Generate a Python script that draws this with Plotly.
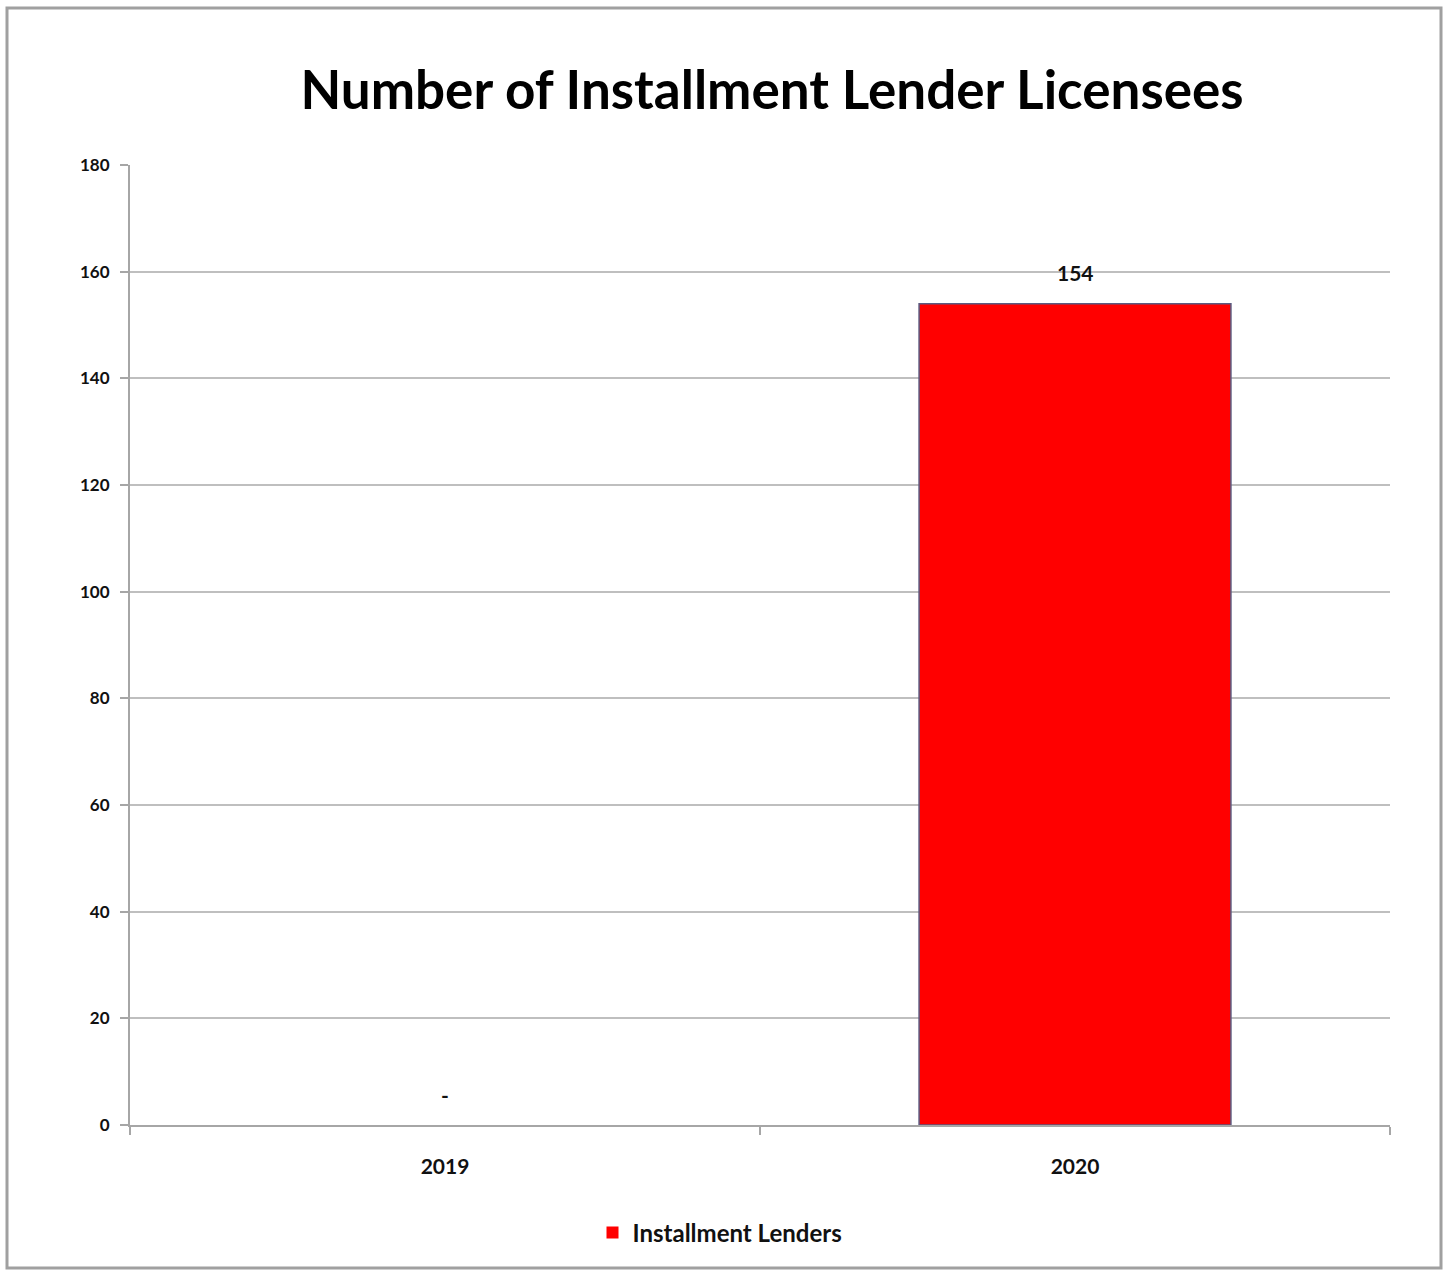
import plotly.graph_objects as go

categories = ["2019", "2020"]
values = [0, 154]
labels = ["-", "154"]
y_ticks = [0, 20, 40, 60, 80, 100, 120, 140, 160, 180]
series_name = "Installment Lenders"
title_text = "Number of Installment Lender Licensees"

W, H = 1447, 1270
L, R, T, B = 130, 57, 165, 145
pw, ph = W - L - R, H - T - B

def px_x(x):
    return (x - L) / pw

def px_y(y):
    return (H - B - y) / ph

FONT = "Lato"

fig = go.Figure()
fig.add_trace(go.Bar(
    x=categories, y=values, name=series_name,
    marker=dict(color="#ff0000",
                line=dict(color="#5a5a80", width=[0 if v == 0 else 1.5 for v in values])),
    width=0.495, showlegend=True,
))

# category axis positions are indices 0..n-1
for i, (v, t) in enumerate(zip(values, labels)):
    fig.add_annotation(x=i, y=v, xref="x", yref="y", text=t, showarrow=False,
                       yshift=31, font=dict(family=FONT, size=21, color="#111111", weight="bold"))

fig.add_shape(type="rect", xref="paper", yref="paper",
              x0=px_x(7), x1=px_x(1441), y0=px_y(1268), y1=px_y(8),
              line=dict(color="#a0a0a0", width=3), fillcolor="rgba(0,0,0,0)", layer="below")

fig.update_layout(
    width=W, height=H,
    margin=dict(l=L, r=R, t=T, b=B),
    paper_bgcolor="white", plot_bgcolor="white",
    title=dict(text=title_text, x=px_x(772), xref="paper", xanchor="center",
               y=1 - 90 / H, yanchor="middle",
               font=dict(family=FONT, size=53, color="#000000", weight="bold")),
    font=dict(family=FONT, color="#111111"),
    legend=dict(orientation="h", x=px_x(720), xanchor="center", y=px_y(1233), yanchor="middle",
                font=dict(family=FONT, size=24, color="#111111", weight="bold"), itemwidth=30),
    xaxis=dict(type="category", range=[-0.5, 1.5], showline=True, linecolor="#a6a6a6", linewidth=2,
               ticks="outside", tickson="boundaries", ticklen=8, tickcolor="#a6a6a6", tickwidth=2,
               tickfont=dict(family=FONT, size=21, color="#111111", weight="bold"),
               ticklabelstandoff=22, showgrid=False, tickangle=0),
    yaxis=dict(range=[0, 180], tickvals=y_ticks, showline=True, linecolor="#a6a6a6", linewidth=2,
               ticks="outside", ticklen=8, tickcolor="#a6a6a6", tickwidth=2,
               gridcolor="#bfbfbf", gridwidth=2, zeroline=False,
               tickfont=dict(family=FONT, size=17, color="#111111", weight="bold"), ticklabelstandoff=7),
)

fig.write_html("out.html")
